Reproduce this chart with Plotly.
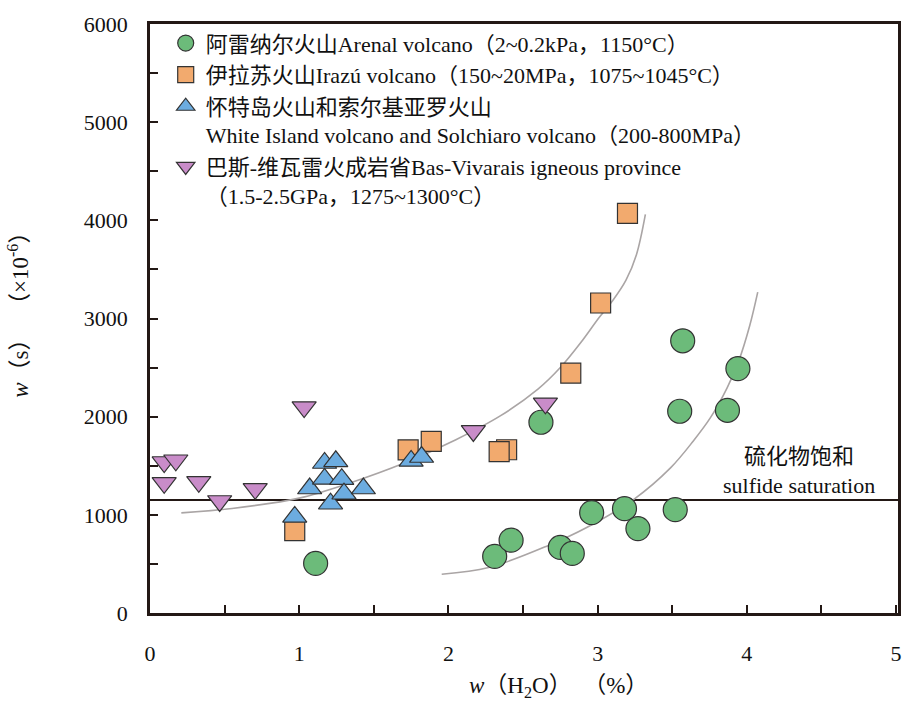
import plotly.graph_objects as go

# ---- data ----
arenal_x = [1.11, 2.31, 2.42, 2.62, 2.75, 2.83, 2.96, 3.18, 3.27, 3.52, 3.55, 3.57, 3.87, 3.94]
arenal_y = [506, 577, 742, 1943, 668, 607, 1022, 1063, 860, 1053, 2055, 2773, 2065, 2490]

irazu_x = [0.97, 1.73, 1.885, 2.39, 2.34, 2.82, 3.02, 3.20]
irazu_y = [840, 1662, 1748, 1663, 1643, 2443, 3158, 4070]

white_x = [0.97, 1.07, 1.17, 1.245, 1.17, 1.285, 1.21, 1.30, 1.43, 1.75, 1.82]
white_y = [979, 1268, 1528, 1545, 1366, 1363, 1113, 1215, 1268, 1549, 1589]

bas_x = [0.095, 0.173, 0.095, 0.327, 0.467, 0.705, 1.033, 2.167, 2.65]
bas_y = [1538, 1556, 1326, 1336, 1141, 1265, 2098, 1855, 2136]

trend1_x = [0.21, 0.55, 1.0, 1.35, 1.7, 2.05, 2.35, 2.6, 2.75, 2.89, 3.01, 3.1, 3.19, 3.26, 3.32]
trend1_y = [1020, 1065, 1170, 1330, 1525, 1765, 2010, 2280, 2500, 2760, 3010, 3180, 3390, 3650, 4060]

trend2_x = [1.955, 2.27, 2.67, 2.93, 3.245, 3.49, 3.64, 3.755, 3.867, 3.944, 4.02, 4.073]
trend2_y = [395, 463, 688, 873, 1161, 1481, 1750, 1987, 2291, 2561, 2932, 3269]

SULFIDE_SAT = 1150

x_tickvals = [0, 0.5, 1, 1.5, 2, 2.5, 3, 3.5, 4, 4.5, 5]
x_ticktext = ["0", "", "1", "", "2", "", "3", "", "4", "", "5"]
y_tickvals = [0, 500, 1000, 1500, 2000, 2500, 3000, 3500, 4000, 4500, 5000, 5500, 6000]
y_ticktext = ["0", "", "1000", "", "2000", "", "3000", "", "4000", "", "5000", "", "6000"]

names = [
    "阿雷纳尔火山Arenal volcano（2~0.2kPa，1150°C）",
    "伊拉苏火山Irazú volcano（150~20MPa，1075~1045°C）",
    "怀特岛火山和索尔基亚罗火山<br>White Island volcano and Solchiaro volcano（200-800MPa）",
    "巴斯-维瓦雷火成岩省Bas-Vivarais igneous province<br>（1.5-2.5GPa，1275~1300°C）",
]

FONT = "Liberation Serif, 'Noto Sans CJK SC', serif"
AXC = "#231815"
TXT = "#111111"
EDGE = dict(color="#333333", width=1.2)

fig = go.Figure()

# trend curves
for tx, ty in [(trend1_x, trend1_y), (trend2_x, trend2_y)]:
    fig.add_trace(go.Scatter(x=tx, y=ty, mode="lines", line=dict(color="#aaa5a5", width=1.6, shape="spline"),
                             showlegend=False, hoverinfo="skip"))

series = [
    (arenal_x, arenal_y, "circle", "#6cbb7a", 24, names[0]),
    (irazu_x, irazu_y, "square", "#f2aa6e", 20, names[1]),
    (white_x, white_y, "triangle-up", "#6cace0", 21, names[2]),
    (bas_x, bas_y, "triangle-down", "#c98cc9", 21, names[3]),
]
for i, (sx, sy, sym, col, sz, nm) in enumerate(series):
    fig.add_trace(go.Scatter(x=sx, y=sy, mode="markers", name=nm, legendgroup=f"g{i}",
                             marker=dict(symbol=sym, color=col, size=sz, line=EDGE)))

fig.add_shape(type="line", xref="paper", x0=0, x1=1, yref="y", y0=SULFIDE_SAT, y1=SULFIDE_SAT,
              line=dict(color=AXC, width=2), layer="below")

fig.add_annotation(x=4.35, y=1447, xref="x", yref="y", text="硫化物饱和<br>sulfide saturation",
                   showarrow=False, xanchor="center", yanchor="middle",
                   font=dict(family=FONT, size=22, color=TXT), align="center")

fig.add_annotation(x=0.546, y=-0.126, xref="paper", yref="paper", xanchor="center", yanchor="middle",
                   text="<i>w</i>（H<sub>2</sub>O）&nbsp;&nbsp;（%）", showarrow=False,
                   font=dict(family=FONT, size=23, color=TXT))
fig.add_annotation(x=-0.175, y=0.515, xref="paper", yref="paper", xanchor="center", yanchor="middle",
                   textangle=-90,
                   text="<i>w</i>（s）&nbsp;&nbsp;（×10<sup>-6</sup>）", showarrow=False,
                   font=dict(family=FONT, size=23, color=TXT))

fig.update_xaxes(range=[0, 5.013], tickvals=x_tickvals, ticktext=x_ticktext, ticks="inside", ticklen=8,
                 tickwidth=2, tickcolor=AXC, showline=True, linecolor=AXC, linewidth=2.5, mirror=True,
                 showgrid=False, zeroline=False, ticklabelstandoff=19,
                 tickfont=dict(family=FONT, size=22, color=TXT))
fig.update_yaxes(range=[0, 6000], tickvals=y_tickvals, ticktext=y_ticktext, ticks="inside", ticklen=8,
                 tickwidth=2, tickcolor=AXC, showline=True, linecolor=AXC, linewidth=2.5, mirror=True,
                 showgrid=False, zeroline=False, ticklabelstandoff=15,
                 tickfont=dict(family=FONT, size=22, color=TXT))

fig.update_layout(
    width=914, height=704,
    margin=dict(l=150, r=12, t=18, b=91),
    paper_bgcolor="white", plot_bgcolor="white",
    legend=dict(x=0.021, y=1.003, xanchor="left", yanchor="top", bgcolor="rgba(0,0,0,0)",
                font=dict(family=FONT, size=22, color=TXT), valign="top", tracegroupgap=0,
                itemsizing="trace"),
    showlegend=True,
)

fig.write_html("out.html")
